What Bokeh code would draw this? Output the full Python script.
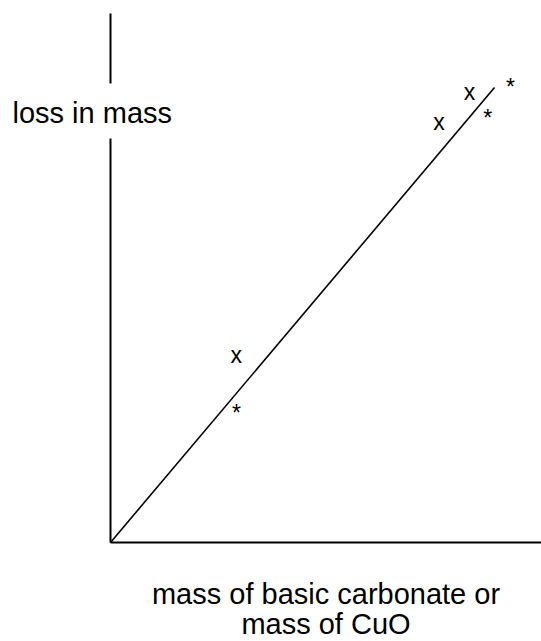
from bokeh.plotting import figure
from bokeh.models import Range1d, Label, ColumnDataSource
from bokeh.core.properties import value
from bokeh.embed import file_html
from bokeh.resources import INLINE

# ---- data (arbitrary units) ----
fit_x = [0.0, 8.91]
fit_y = [0.0, 8.60]

carbonate_x = [2.92, 7.62, 8.33]      # marked "x"
carbonate_y = [3.52, 7.93, 8.49]
cuo_x = [2.92, 8.75, 9.28]            # marked "*"
cuo_y = [2.50, 8.09, 8.66]

x_axis_end = 10.0
y_axis_end = 10.0
y_label_text = "loss in mass"
x_label_lines = ["mass of basic carbonate or", "mass of CuO"]

FONT = "Liberation Sans"

# ---- figure: frame covers the whole canvas ----
W, H = 541, 641
p = figure(width=W, height=H, output_backend="svg", toolbar_location=None,
           x_axis_type=None, y_axis_type=None,
           x_range=Range1d(-2.5522, 10.0), y_range=Range1d(-1.8715, 10.2457),
           min_border=0, min_border_left=0, min_border_right=0,
           min_border_top=0, min_border_bottom=0)
p.outline_line_color = None
p.xgrid.visible = False
p.ygrid.visible = False
p.background_fill_color = "white"
p.border_fill_color = "white"

# axes (vertical axis has a gap where its label sits)
gap_top, gap_bottom = 8.677, 7.637
p.segment(x0=[0, 0, 0], y0=[y_axis_end, gap_bottom, 0],
          x1=[0, 0, x_axis_end], y1=[gap_top, 0, 0],
          line_color="black", line_width=2)

# fitted straight line
p.line(fit_x, fit_y, line_color="black", line_width=1.6)

# point markers as text characters
src_c = ColumnDataSource(dict(x=carbonate_x, y=carbonate_y, t=["x"] * len(carbonate_x)))
src_o = ColumnDataSource(dict(x=cuo_x, y=cuo_y, t=["*"] * len(cuo_x)))
p.text(x="x", y="y", text="t", source=src_c, text_font=value(FONT),
       text_font_size="23px", text_align="center", text_baseline="alphabetic",
       y_offset=-1, text_color="black")
p.text(x="x", y="y", text="t", source=src_o, text_font=value(FONT),
       text_font_size="23px", text_align="center", text_baseline="alphabetic",
       y_offset=3, text_color="black")

# axis titles
p.add_layout(Label(x=-2.274, y=8.11, text=y_label_text, text_font=FONT,
                   text_font_size="29px", text_align="left",
                   text_baseline="alphabetic", text_color="black"))
for line, yy in zip(x_label_lines, [-0.983, -1.550]):
    p.add_layout(Label(x=5.0, y=yy, text=line, text_font=FONT,
                       text_font_size="29px", text_align="center",
                       text_baseline="alphabetic", text_color="black"))

open("out.html", "w").write(file_html(p, INLINE))
